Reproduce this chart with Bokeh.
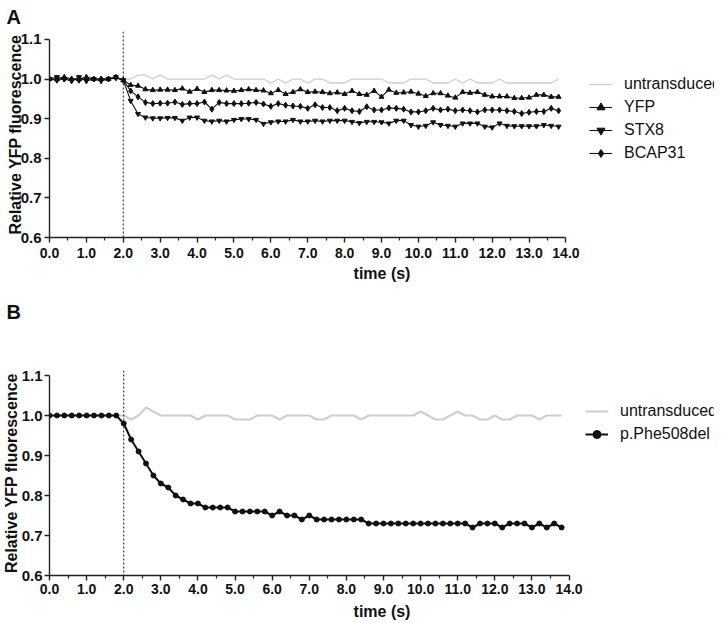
from bokeh.plotting import figure
from bokeh.models import Range1d, FixedTicker, Legend, LegendItem, Span, PrintfTickFormatter, Title
from bokeh.layouts import column
from bokeh.embed import file_html
from bokeh.resources import INLINE

# ---------------- data ----------------
time = [0.0, 0.2, 0.4, 0.6, 0.8, 1.0, 1.2, 1.4, 1.6, 1.8,
        2.0, 2.2, 2.4, 2.6, 2.8, 3.0, 3.2, 3.4, 3.6, 3.8,
        4.0, 4.2, 4.4, 4.6, 4.8, 5.0, 5.2, 5.4, 5.6, 5.8,
        6.0, 6.2, 6.4, 6.6, 6.8, 7.0, 7.2, 7.4, 7.6, 7.8,
        8.0, 8.2, 8.4, 8.6, 8.8, 9.0, 9.2, 9.4, 9.6, 9.8,
        10.0, 10.2, 10.4, 10.6, 10.8, 11.0, 11.2, 11.4, 11.6, 11.8,
        12.0, 12.2, 12.4, 12.6, 12.8, 13.0, 13.2, 13.4, 13.6, 13.8]

# Panel A
a_untransduced = [1.0, 1.0, 1.0, 1.0, 1.0, 1.0, 1.0, 1.0, 1.0, 1.0,
                  1.0, 1.0, 1.01, 1.01, 1.0, 1.01, 1.0, 1.0, 1.0, 1.0,
                  1.0, 1.0, 1.01, 1.0, 1.01, 1.0, 1.0, 1.0, 1.0, 1.0,
                  0.99, 1.0, 0.99, 1.0, 1.0, 0.99, 1.0, 1.0, 0.99, 0.99,
                  0.99, 1.0, 1.0, 1.0, 1.0, 1.0, 0.99, 0.99, 0.99, 1.0,
                  1.0, 1.0, 0.99, 0.99, 0.99, 1.0, 0.99, 1.0, 0.99, 0.99,
                  0.99, 1.0, 0.99, 0.99, 0.99, 0.99, 0.99, 0.99, 0.99, 1.0]
a_yfp = [1.0, 1.0, 1.005, 1.0, 1.0, 1.005, 1.0, 1.0, 1.0, 1.005,
         0.997, 0.985, 0.983, 0.974, 0.972, 0.973, 0.973, 0.972, 0.976, 0.968,
         0.975, 0.967, 0.972, 0.972, 0.971, 0.970, 0.972, 0.974, 0.972, 0.971,
         0.964, 0.972, 0.962, 0.967, 0.974, 0.967, 0.968, 0.967, 0.964, 0.966,
         0.962, 0.970, 0.962, 0.960, 0.970, 0.955, 0.973, 0.965, 0.966, 0.968,
         0.963, 0.957, 0.964, 0.964, 0.958, 0.953, 0.967, 0.965, 0.967, 0.960,
         0.956, 0.956, 0.956, 0.952, 0.952, 0.953, 0.960, 0.960, 0.955, 0.955]
a_stx8 = [1.0, 1.005, 1.0, 0.995, 1.005, 0.995, 1.0, 0.995, 1.0, 1.005,
          0.997, 0.945, 0.912, 0.903, 0.901, 0.901, 0.902, 0.902, 0.895, 0.903,
          0.903, 0.895, 0.893, 0.895, 0.893, 0.897, 0.899, 0.899, 0.897, 0.887,
          0.891, 0.893, 0.893, 0.897, 0.893, 0.893, 0.895, 0.893, 0.895, 0.895,
          0.895, 0.892, 0.889, 0.892, 0.892, 0.891, 0.888, 0.895, 0.895, 0.884,
          0.880, 0.882, 0.891, 0.884, 0.882, 0.880, 0.888, 0.888, 0.888, 0.880,
          0.878, 0.888, 0.882, 0.881, 0.881, 0.881, 0.881, 0.884, 0.882, 0.880]
a_bcap31 = [1.0, 0.997, 1.0, 1.0, 0.997, 1.0, 1.0, 1.0, 1.0, 1.003,
            0.997, 0.970, 0.955, 0.941, 0.938, 0.939, 0.939, 0.942, 0.936, 0.938,
            0.938, 0.942, 0.924, 0.941, 0.938, 0.938, 0.938, 0.939, 0.941, 0.937,
            0.931, 0.938, 0.934, 0.932, 0.931, 0.926, 0.935, 0.928, 0.928, 0.920,
            0.926, 0.920, 0.918, 0.930, 0.922, 0.922, 0.927, 0.926, 0.924, 0.917,
            0.917, 0.920, 0.926, 0.922, 0.924, 0.920, 0.922, 0.920, 0.917, 0.922,
            0.922, 0.922, 0.920, 0.918, 0.913, 0.916, 0.918, 0.918, 0.926, 0.920]

# Panel B
b_untransduced = [1.0, 1.0, 1.0, 1.0, 1.0, 1.0, 1.0, 1.0, 1.0, 1.0,
                  1.0, 0.99, 1.0, 1.02, 1.01, 1.0, 1.0, 1.0, 1.0, 1.0,
                  0.99, 1.0, 1.0, 1.0, 1.0, 0.99, 0.99, 0.99, 1.0, 1.0,
                  1.0, 0.99, 1.0, 1.0, 1.0, 1.0, 0.99, 0.99, 1.0, 1.0,
                  1.0, 1.0, 0.99, 1.0, 1.0, 1.0, 1.0, 1.0, 1.0, 1.0,
                  1.01, 1.0, 0.99, 0.99, 1.0, 1.01, 1.0, 1.0, 0.99, 0.99,
                  1.0, 0.99, 0.99, 1.0, 1.0, 1.0, 0.99, 1.0, 1.0, 1.0]
b_phe508del = [1.0, 1.0, 1.0, 1.0, 1.0, 1.0, 1.0, 1.0, 1.0, 1.0,
               0.98, 0.94, 0.91, 0.88, 0.85, 0.83, 0.82, 0.80, 0.79, 0.78,
               0.78, 0.77, 0.77, 0.77, 0.77, 0.76, 0.76, 0.76, 0.76, 0.76,
               0.75, 0.76, 0.75, 0.75, 0.74, 0.75, 0.74, 0.74, 0.74, 0.74,
               0.74, 0.74, 0.74, 0.73, 0.73, 0.73, 0.73, 0.73, 0.73, 0.73,
               0.73, 0.73, 0.73, 0.73, 0.73, 0.73, 0.73, 0.72, 0.73, 0.73,
               0.73, 0.72, 0.73, 0.73, 0.73, 0.72, 0.73, 0.72, 0.73, 0.72]

x_ticks = [0, 1, 2, 3, 4, 5, 6, 7, 8, 9, 10, 11, 12, 13, 14]
x_minor = [0.5, 1.5, 2.5, 3.5, 4.5, 5.5, 6.5, 7.5, 8.5, 9.5, 10.5, 11.5, 12.5, 13.5]
y_ticks = [0.6, 0.7, 0.8, 0.9, 1.0, 1.1]
stim_time = 2.0

FONT = "Liberation Sans"
GRAY = "#cdcdcd"
INK = "#111111"
W = 728
SHIFT = 7          # figures are pulled left by this many pixels
PX_PER_S = 37.5
LEGEND_X = 585     # page x of the legend glyphs


def letter_title(text, offset, standoff):
    return Title(text=text, align="left", offset=offset, standoff=standoff,
                 text_font=FONT, text_font_size="20px", text_font_style="bold",
                 text_color=INK)


def make_fig(height, top, left, bottom, y_top, ylab_gap, ytitle_gap, xlab_gap, xtitle_gap):
    x_end = (W - left) / PX_PER_S  # frame spans to the right edge; axis stops at 14
    p = figure(width=W, height=height, x_range=Range1d(0, x_end), y_range=Range1d(0.6, y_top),
               output_backend="svg", toolbar_location=None,
               min_border_left=left, min_border_right=0,
               min_border_top=top, min_border_bottom=bottom,
               margin=(0, 0, 0, -SHIFT))
    p.outline_line_color = None
    p.grid.visible = False
    p.background_fill_color = "white"
    p.border_fill_color = "white"
    for ax in (p.xaxis[0], p.yaxis[0]):
        ax.axis_line_color = "#222222"
        ax.axis_line_width = 1.4
        ax.major_tick_line_color = "#222222"
        ax.major_tick_line_width = 1.4
        ax.minor_tick_line_color = "#222222"
        ax.minor_tick_line_width = 1.2
        ax.major_tick_in = 0
        ax.major_tick_out = 5
        ax.minor_tick_in = 0
        ax.major_label_text_font = FONT
        ax.major_label_text_font_style = "bold"
        ax.major_label_text_color = INK
        ax.formatter = PrintfTickFormatter(format="%.1f")
        ax.axis_label_text_font = FONT
        ax.axis_label_text_font_style = "bold"
        ax.axis_label_text_font_size = "16px"
        ax.axis_label_text_color = INK
    p.xaxis.axis_label = "time (s)"
    p.yaxis.axis_label = "Relative YFP fluorescence"
    p.xaxis.ticker = FixedTicker(ticks=x_ticks, minor_ticks=x_minor)
    p.xaxis.bounds = (0, 14)
    p.xaxis.minor_tick_out = 3
    p.xaxis.major_label_text_font_size = "14px"
    p.xaxis.major_label_standoff = xlab_gap
    p.xaxis.axis_label_standoff = xtitle_gap
    p.yaxis.ticker = FixedTicker(ticks=y_ticks, minor_ticks=[])
    p.yaxis.minor_tick_out = 0
    p.yaxis.bounds = (0.6, 1.1)
    p.yaxis.major_label_text_font_size = "15px"
    p.yaxis.major_label_standoff = ylab_gap
    p.yaxis.axis_label_standoff = ytitle_gap
    p.add_layout(Span(location=stim_time, dimension="height", line_color=INK,
                      line_width=1, line_dash="2 2"))
    return p


def style_legend(lg):
    lg.padding = 0
    lg.margin = 0
    lg.spacing = 3
    lg.border_line_color = None
    lg.background_fill_alpha = 0
    lg.glyph_width = 23
    lg.glyph_height = 20
    lg.label_height = 20
    lg.label_standoff = 12
    lg.label_text_font = FONT
    lg.label_text_font_size = "16px"
    lg.label_text_color = INK


# ---------------- panel A ----------------
A_LEFT, A_BOTTOM = 45 + SHIFT, 238
H1 = 336
pa = make_fig(H1, 30, A_LEFT, H1 - A_BOTTOM, 1.12, 3, -6, 5, 4)
pa.title = letter_title("A", -43, 7)
pa.add_layout(letter_title("B", -43, 28), "below")

ua = pa.line(time, a_untransduced, line_color=GRAY, line_width=1.3)
l1 = pa.line(time, a_yfp, line_color=INK, line_width=1.1)
m1 = pa.scatter(time, a_yfp, marker="triangle", size=5, color=INK)
l2 = pa.line(time, a_stx8, line_color=INK, line_width=1.1)
m2 = pa.scatter(time, a_stx8, marker="inverted_triangle", size=5, color=INK)
l3 = pa.line(time, a_bcap31, line_color=INK, line_width=1.1)
m3 = pa.scatter(time, a_bcap31, marker="diamond", size=6, color=INK)

leg_a = Legend(items=[LegendItem(label="untransduced", renderers=[ua]),
                      LegendItem(label="YFP", renderers=[l1, m1]),
                      LegendItem(label="STX8", renderers=[l2, m2]),
                      LegendItem(label="BCAP31", renderers=[l3, m3])],
               location=(LEGEND_X + SHIFT - A_LEFT, A_BOTTOM - (75 + 89)))
style_legend(leg_a)
pa.add_layout(leg_a)

# ---------------- panel B ----------------
B_LEFT, B_BOTTOM = 49 + SHIFT, 575
H2 = 623 - H1
pb = make_fig(H2, 370 - H1, B_LEFT, 623 - B_BOTTOM, 1.1125, 2, -1, 3, 6)

ub = pb.line(time, b_untransduced, line_color=GRAY, line_width=2)
l4 = pb.line(time, b_phe508del, line_color=INK, line_width=2)
m4 = pb.scatter(time, b_phe508del, marker="circle", size=5, color=INK)

leg_b = Legend(items=[LegendItem(label="untransduced", renderers=[ub]),
                      LegendItem(label="p.Phe508del", renderers=[l4, m4])],
               location=(LEGEND_X + SHIFT - B_LEFT, B_BOTTOM - (401 + 43)))
style_legend(leg_b)
pb.add_layout(leg_b)

layout = column(pa, pb, spacing=0)
open("out.html", "w").write(file_html(layout, INLINE))
